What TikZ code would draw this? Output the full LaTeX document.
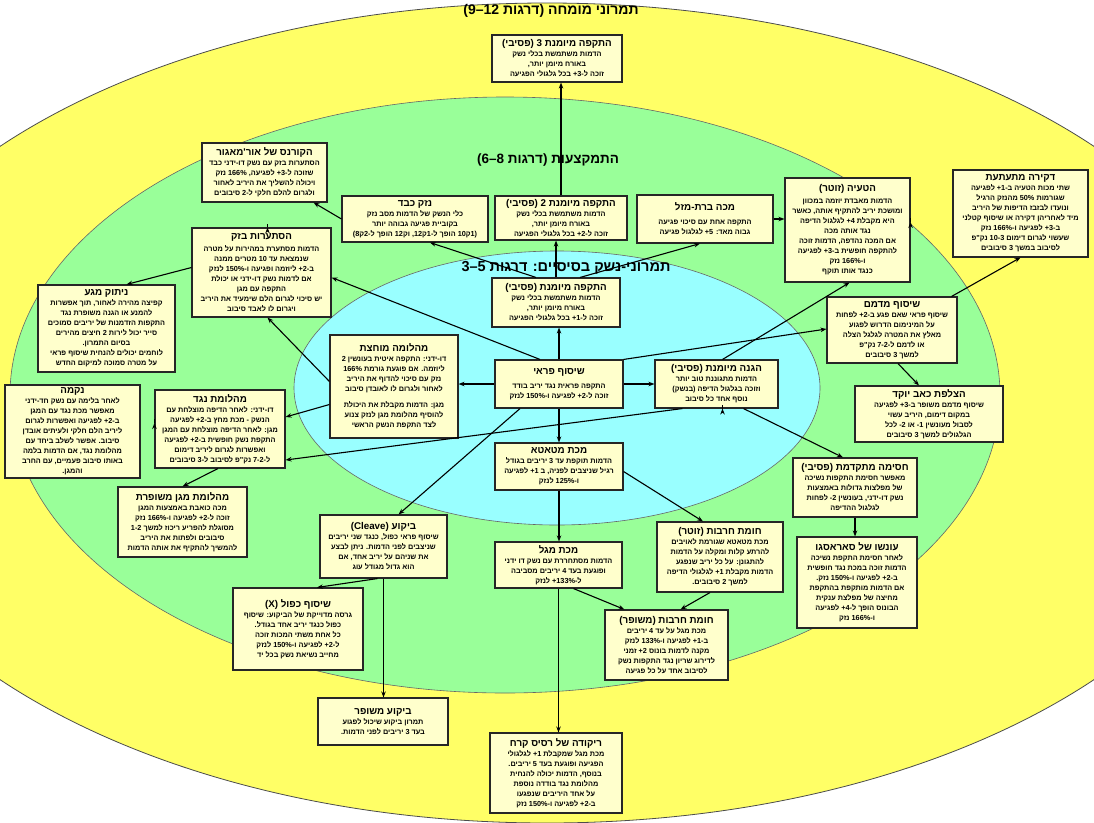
\documentclass[tikz,border=0pt]{standalone}
\usepackage{fontspec}
\setmainfont{Liberation Sans}
\newfontfamily\heb[Script=Hebrew]{Liberation Sans}
\newfontfamily\lat{Liberation Sans}
\TeXXeTstate=1
\usetikzlibrary{arrows.meta,calc}
\definecolor{ybg}{HTML}{FFFF66}
\definecolor{gbg}{HTML}{99FF99}
\definecolor{bbg}{HTML}{99FFFF}
\definecolor{boxfill}{HTML}{FFFFCC}
\newcommand\RL[1]{\beginR#1\endR}
\newcommand\LN[1]{{\lat#1}}
\newcommand\bodyf{\heb\bfseries\fontsize{7.3}{10}\selectfont}
\newcommand\titf{\heb\bfseries\fontsize{9.8}{12.5}\selectfont}
\newcommand\TT[1]{{\titf\RL{#1}}}
\tikzset{
  box/.style={draw=black!85, line width=1.1pt, fill=boxfill, align=center, inner sep=1.5pt, font=\bodyf},
  arr/.style={-{Stealth[length=6pt,width=4.5pt]}, line width=1.1pt, black},
  bigtitle/.style={font=\heb\bfseries\fontsize{14}{16}\selectfont, inner sep=1pt},
  basefont/.style={font=\heb\bfseries\fontsize{14.5}{16}\selectfont, inner sep=1pt}
}
\begin{document}
\begin{tikzpicture}[x=1pt,y=-1pt]
\useasboundingbox (0,0) rectangle (1094,822);
\begin{scope}
\clip (0,0) rectangle (1094,822);
\fill[white] (0,0) rectangle (1094,822);
\draw[fill=ybg, draw=black!70, line width=0.8pt] (547,413) ellipse [x radius=720, y radius=410];
\draw[fill=gbg, draw=black!60, line width=0.6pt] (505,395) ellipse [x radius=495, y radius=298];
\draw[fill=bbg, draw=black!60, line width=0.6pt] (557,388) ellipse [x radius=263, y radius=137];
\end{scope}

\node[bigtitle] (tExp) at (551,11) {\RL{תמרוני מומחה (דרגות \LN{9–12})}};
\node[bigtitle, font=\heb\bfseries\fontsize{13.5}{15}\selectfont] (tPro) at (548,160) {\RL{התמקצעות (דרגות \LN{6–8})}};
\node[basefont] (tBas) at (566,268) {\RL{תמרוני-נשק בסיסיים: דרגות \LN{3–5}}};

\node[box, minimum width=130, minimum height=47] (top3) at (557,58.5) {\TT{התקפה מיומנת 3 (פסיבי)}\\
\RL{הדמות משתמשת בכלי נשק}\\
\RL{באורח מיומן יותר,}\\
\RL{זוכה ל-3+ בכל גלגולי הפגיעה}};

\node[box, minimum width=125, minimum height=59] (qor) at (264.5,172.5) {\TT{הקורנס של אור'מאגור}\\
\RL{הסתערות בזק עם נשק דו-ידני כבד}\\
\RL{שזוכה ל-3+ לפגיעה, 166\% נזק}\\
\RL{ויכולה להשליך את היריב לאחור}\\
\RL{ולגרום להלם חלקי ל-2 סיבובים}};

\node[box, minimum width=146, minimum height=46] (heavy) at (415,219) {\TT{נזק כבד}\\
\RL{כלי הנשק של הדמות מסב נזק}\\
\RL{בקוביית פגיעה גבוהה יותר}\\
\RL{(1ק10 הופך ל-1ק12, וק12 הופך ל-2ק8)}};

\node[box, minimum width=132, minimum height=44] (sk2) at (561,218) {\TT{התקפה מיומנת 2 (פסיבי)}\\
\RL{הדמות משתמשת בכלי נשק}\\
\RL{באורח מיומן יותר,}\\
\RL{זוכה ל-2+ בכל גלגולי הפגיעה}};

\node[box, minimum width=136, minimum height=48] (lucky) at (705,219) {\TT{מכה ברת-מזל}\\[4pt]
\RL{התקפה אחת עם סיכוי פגיעה}\\
\RL{גבוה מאד: 5+ לגלגול פגיעה}};

\node[box, minimum width=125, minimum height=104] (feint) at (847.5,230) {\TT{הטעיה (זוטר)}\\[2pt]
\RL{הדמות מאבדת יוזמה במכוון}\\
\RL{ומושכת יריב להתקיף אותה, כאשר}\\
\RL{היא מקבלת 4+ לגלגול הדיפה}\\
\RL{נגד אותה מכה}\\
\RL{אם המכה נהדפה, הדמות זוכה}\\
\RL{להתקפה חופשית ב-3+ לפגיעה}\\
\RL{ו-166\% נזק}\\
\RL{כנגד אותו תוקף}};

\node[box, minimum width=135, minimum height=87] (stab) at (1020.5,213.5) {\TT{דקירה מתעתעת}\\
\RL{שתי מכות הטעיה ב-1+ לפגיעה}\\
\RL{שגורמות 50\% מהנזק הרגיל}\\
\RL{ונועדו לבזבז הדיפות של היריב}\\
\RL{מיד לאחריהן דקירה או שיסוף קטלני}\\
\RL{ב-3+ לפגיעה ו-166\% נזק}\\
\RL{שעשוי לגרום דימום 10-3 נק"פ}\\
\RL{לסיבוב במשך 3 סיבובים}};

\node[box, minimum width=139, minimum height=89] (blitz) at (261.5,272.5) {\TT{הסתערות בזק}\\[2pt]
\RL{הדמות מסתערת במהירות על מטרה}\\
\RL{שנמצאת עד 10 מטרים ממנה}\\
\RL{ב-2+ ליוזמה ופגיעה ו-150\% לנזק}\\
\RL{אם לדמות נשק דו-ידני או יכולת}\\
\RL{התקפה עם מגן}\\
\RL{יש סיכוי לגרום הלם שימעיד את היריב}\\
\RL{ויגרום לו לאבד סיבוב}};

\node[box, minimum width=137, minimum height=87] (dis) at (106.5,328.5) {\TT{ניתוק מגע}\\
\RL{קפיצה מהירה לאחור, תוך אפשרות}\\
\RL{להמנע או הגנה משופרת נגד}\\
\RL{התקפות הזדמנות של יריבים סמוכים}\\
\RL{סייר יכול לירות 2 חיצים מהירים}\\
\RL{בסיום התמרון.}\\
\RL{לוחמים יכולים להנחית שיסוף פראי}\\
\RL{על מטרה סמוכה למיקום החדש}};

\node[box, minimum width=135, minimum height=93] (veng) at (72.5,431.5) {\TT{נקמה}\\
\RL{לאחר בלימה עם נשק חד-ידני}\\
\RL{מאפשר מכת נגד עם המגן}\\
\RL{ב-2+ לפגיעה ואפשרות לגרום}\\
\RL{ליריב הלם חלקי ולעיתים אובדן}\\
\RL{סיבוב. אפשר לשלב ביחד עם}\\
\RL{מהלומת נגד, אם הדמות בלמה}\\
\RL{באותו סיבוב פעמיים, עם החרב}\\
\RL{והמגן.}};

\node[box, minimum width=130, minimum height=78] (counter) at (220,429) {\TT{מהלומת נגד}\\
\RL{דו-ידני: לאחר הדיפה מוצלחת עם}\\
\RL{הנשק - מכת מחץ ב-2+ לפגיעה}\\
\RL{מגן: לאחר הדיפה מוצלחת עם המגן}\\
\RL{התקפת נשק חופשית ב-2+ לפגיעה}\\
\RL{ואפשרות לגרום ליריב דימום}\\
\RL{ל-7-2 נק"פ לסיבוב ל-3 סיבובים}};

\node[box, minimum width=129, minimum height=70] (sbash) at (182.5,522) {\TT{מהלומת מגן משופרת}\\
\RL{מכה כואבת באמצעות המגן}\\
\RL{זוכה ל-2+ לפגיעה ו-166\% נזק}\\
\RL{מסוגלת להפריע ריכוז למשך 1-2}\\
\RL{סיבובים ולפתות את היריב}\\
\RL{להמשיך להתקיף את אותה הדמות}};

\node[box, minimum width=128, minimum height=103] (crush) at (394,386.5) {\TT{מהלומה מוחצת}\\
\RL{דו-ידני: התקפה איטית בעונשין 2}\\
\RL{ליוזמה. אם פוגעת גורמת 166\%}\\
\RL{נזק עם סיכוי להדוף את היריב}\\
\RL{לאחור ולגרום לו לאובדן סיבוב}\\[6pt]
\RL{מגן: הדמות מקבלת את היכולת}\\
\RL{להוסיף מהלומת מגן לנזק צנוע}\\
\RL{לצד התקפת הנשק הראשי}};

\node[box, minimum width=128, minimum height=49] (sk1) at (556,302.5) {\TT{התקפה מיומנת (פסיבי)}\\
\RL{הדמות משתמשת בכלי נשק}\\
\RL{באורח מיומן יותר,}\\
\RL{זוכה ל-1+ בכל גלגולי הפגיעה}};

\node[box, minimum width=128, minimum height=48] (savage) at (559,384) {\TT{שיסוף פראי}\\[4pt]
\RL{התקפה פראית נגד יריב בודד}\\
\RL{זוכה ל-2+ לפגיעה ו-150\% לנזק}};

\node[box, minimum width=123, minimum height=48] (sdef) at (716.5,384) {\TT{הגנה מיומנת (פסיבי)}\\
\RL{הדמות מתגוננת טוב יותר}\\
\RL{וזוכה בגלגול הדיפה (בנשק)}\\
\RL{נוסף אחד כל סיבוב}};

\node[box, minimum width=130, minimum height=66] (bleed) at (892,330) {\TT{שיסוף מדמם}\\
\RL{שיסוף פראי שאם פגע ב-2+ לפחות}\\
\RL{על המינימום הדרוש לפגוע}\\
\RL{מאלץ את המטרה לגלגל הצלה}\\
\RL{או לדמם ל-7-2 נק"פ}\\
\RL{למשך 3 סיבובים}};

\node[box, minimum width=148, minimum height=56] (lash) at (929,414) {\TT{הצלפת כאב יוקד}\\
\RL{שיסוף מדמם משופר ב-3+ לפגיעה}\\
\RL{במקום דימום, היריב עשוי}\\
\RL{לסבול מעונשין 1- או 2- לכל}\\
\RL{הגלגולים למשך 3 סיבובים}};

\node[box, minimum width=128, minimum height=47] (sweep) at (559,466.5) {\TT{מכת מטאטא}\\
\RL{הדמות תוקפת עד 3 יריבים בגודל}\\
\RL{רגיל שניצבים לפניה, ב 1+ לפגיעה}\\
\RL{ו-125\% לנזק}};

\node[box, minimum width=124, minimum height=59] (adv) at (855,487.5) {\TT{חסימה מתקדמת (פסיבי)}\\
\RL{מאפשר חסימת התקפות נשיכה}\\
\RL{של מפלצות גדולות באמצעות}\\
\RL{נשק דו-ידני, בעונשין 2- לפחות}\\
\RL{לגלגול ההדיפה}};

\node[box, minimum width=120, minimum height=91] (sar) at (857,582.5) {\TT{עונשו של סאראסגו}\\
\RL{לאחר חסימת התקפת נשיכה}\\
\RL{הדמות זוכה במכת נגד חופשית}\\
\RL{ב-2+ לפגיעה ו-150\% נזק.}\\
\RL{אם הדמות מותקפת בהתקפת}\\
\RL{מחיצה של מפלצת ענקית}\\
\RL{הבונוס הופך ל-4+ לפגיעה}\\
\RL{ו-166\% נזק}};

\node[box, minimum width=127, minimum height=63] (cleave) at (383.5,546.5) {\TT{ביקוע (Cleave)}\\
\RL{שיסוף פראי כפול, כנגד שני יריבים}\\
\RL{שניצבים לפני הדמות. ניתן לבצע}\\
\RL{את שניהם על יריב אחד, אם}\\
\RL{הוא גדול מגודל עוג}};

\node[box, minimum width=126, minimum height=70] (wmin) at (720,557) {\TT{חומת חרבות (זוטר)}\\
\RL{מכת מטאטא שגורמת לאויבים}\\
\RL{להרתע קלות ומקלה על הדמות}\\
\RL{להתגונן: על כל יריב שנפגע}\\
\RL{הדמות מקבלת 1+ לגלגולי הדיפה}\\
\RL{למשך 2 סיבובים.}};

\node[box, minimum width=127, minimum height=46] (sickle) at (558.5,565) {\TT{מכת מגל}\\
\RL{הדמות מסתחררת עם נשק דו ידני}\\
\RL{ופוגעת בעד 4 יריבים מסביבה}\\
\RL{ל-133\%+ לנזק}};

\node[box, minimum width=130, minimum height=82] (dx) at (298,629) {\TT{שיסוף כפול (X)}\\
\RL{גרסה מדוייקת של הביקוע: שיסוף}\\
\RL{כפול כנגד יריב אחד בגודל.}\\
\RL{כל אחת משתי המכות זוכה}\\
\RL{ל-2+ לפגיעה ו-150\% לנזק}\\
\RL{מחייב נשיאת נשק בכל יד}};

\node[box, minimum width=123, minimum height=70] (wimp) at (666.5,645) {\TT{חומת חרבות (משופר)}\\
\RL{מכת מגל על עד 4 יריבים}\\
\RL{ב-1+ לפגיעה ו-133\% לנזק}\\
\RL{מקנה לדמות בונוס 2+ זמני}\\
\RL{לדירוג שריון נגד התקפות נשק}\\
\RL{לסיבוב אחד על כל פגיעה}};

\node[box, minimum width=130, minimum height=47] (cimp) at (383,721.5) {\TT{ביקוע משופר}\\
\RL{תמרון ביקוע שיכול לפגוע}\\
\RL{בעד 3 יריבים לפני הדמות.}};

\node[box, minimum width=132, minimum height=80] (sun) at (556,773) {\TT{ריקודה של רסיס קרח}\\
\RL{מכת מגל שמקבלת 1+ לגלגולי}\\
\RL{הפגיעה ופוגעת בעד 5 יריבים.}\\
\RL{בנוסף, הדמות יכולה להנחית}\\
\RL{מהלומת נגד בודדה נוספת}\\
\RL{על אחד היריבים שנפגעו}\\
\RL{ב-2+ לפגיעה ו-150\% נזק}};

% connectors
\draw[arr] (savage.north) -- (savage.north |- sk1.south);
\draw[arr] (sk1.north) -- (sk1.north |- sk2.south);
\draw[arr] (sk2.north) -- (sk2.north |- top3.south);
\draw[arr] (savage.west) -- (crush.east |- savage.west);
\draw[arr] (savage.east) -- (sdef.west |- savage.east);
\draw[arr] (savage.south) -- (savage.south |- sweep.north);
\draw[arr] ($(savage.north)+(-19,0)$) -- ($(blitz.east)+(0,5)$);
\draw[arr] ($(savage.south)+(-39,0)$) -- ($(cleave.north)+(15,0)$);
\draw[arr] (savage.north east) -- ($(bleed.west)+(0,-1)$);
\draw[arr] ($(sdef.south west)+(28,0)$) -- ($(counter.east)+(0,31)$);
\draw[arr] ($(crush.west)+(0,18)$) -- ($(counter.east)+(0,-12)$);
\draw[arr] ($(crush.west)+(0,-5)$) -- ($(blitz.south)+(6,0)$);
\draw[arr] ($(sk1.north)+(-20,0)$) -- ($(heavy.south)+(15,0)$);
\draw[arr] ($(sk1.north)+(24,0)$) -- ($(lucky.south)+(-5,0)$);
\draw[arr] (heavy.west) -- ($(qor.south east)+(-14,0)$);
\draw[arr] ($(blitz.north)+(6,0)$) -- ($(blitz.north)+(6,0)$ |- qor.south);
\draw[arr] ($(blitz.west)+(0,-5)$) -- ($(dis.north)+(20,0)$);
\draw[arr] (lucky.east) -- (feint.west |- lucky.east);
\draw[arr] ($(sdef.north)+(6,0)$) -- ($(feint.south)+(2,0)$);
\draw[arr] ($(feint.east)+(0,-8)$) -- ($(feint.east)+(0,-8)$ -| stab.west);
\draw[arr] ($(bleed.north east)+(-6,0)$) -- ($(stab.south)+(0,0)$);
\draw[arr] ($(bleed.south)+(6,0)$) -- ($(lash.north)+(-10,0)$);
\draw[arr] ($(sdef.south)+(27,0)$) -- ($(adv.north)+(-12,0)$);
\draw[arr] ($(sdef.south)+(6,0)$) -- ($(sdef.south)+(6,0)$ |- wmin.north);
\draw[arr] ($(sweep.east)+(0,5)$) -- ($(wmin.north)+(-17,0)$);
\draw[arr] (sweep.south) -- (sweep.south |- sickle.north);
\draw[arr] (sickle.south) -- (sickle.south |- sun.north);
\draw[arr] ($(sickle.south)+(15,0)$) -- ($(wimp.north west)+(20,0)$);
\draw[arr] ($(wmin.south)+(-10,0)$) -- ($(wimp.north)+(14,0)$);
\draw[arr] ($(cleave.south)+(-6,0)$) -- ($(dx.north)+(19,0)$);
\draw[arr] (cleave.south) -- (cleave.south |- cimp.north);
\draw[arr] ($(counter.west)+(0,-6)$) -- ($(counter.west)+(0,-6)$ -| veng.east);
\draw[arr] ($(counter.south)+(-2,0)$) -- (sbash.north);
\draw[arr] (adv.south) -- (adv.south |- sar.north);
\end{tikzpicture}
\end{document}
